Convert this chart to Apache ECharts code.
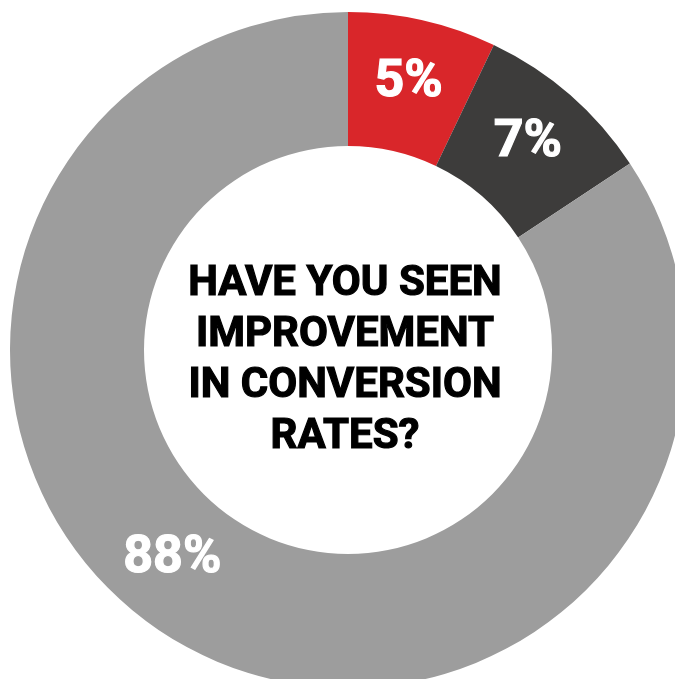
<!DOCTYPE html>
<html>
<head>
<meta charset="utf-8">
<script src="https://cdn.jsdelivr.net/npm/echarts@6/dist/echarts.min.js"></script>
<style>
html,body{margin:0;padding:0;background:#fff;}
#chart{width:675px;height:679px;}
</style>
</head>
<body>
<div id="chart"></div>
<script>
const categories = ['Yes, significantly', 'Yes, somewhat', 'No'];
const shares = [7.1, 8.6, 84.3];
const labelTexts = ['5%', '7%', '88%'];
const colors = ['#D9262A', '#3D3C3B', '#9D9D9D'];
const centerLines = ['HAVE YOU SEEN', 'IMPROVEMENT', 'IN CONVERSION', 'RATES?'];

const chart = echarts.init(document.getElementById('chart'), null, {renderer: 'canvas'});
const data = categories.map((c, i) => ({
  name: c,
  value: shares[i],
  itemStyle: {color: colors[i]},
  label: {formatter: labelTexts[i]}
}));

chart.setOption({
  animation: false,
  series: [{
    type: 'pie',
    center: [348, 350],
    radius: [204, 338],
    startAngle: 90,
    clockwise: true,
    avoidLabelOverlap: false,
    label: {
      show: true,
      position: 'inside',
      color: '#ffffff',
      fontFamily: 'Roboto',
      fontWeight: 'bold',
      fontSize: 52,
      textBorderColor: '#ffffff',
      textBorderWidth: 1.2
    },
    labelLine: {show: false},
    labelLayout: function (p) {
      if (p.dataIndex === 2) return {dx: -46, dy: -32};
      return {};
    },
    emphasis: {disabled: true},
    data: data
  }],
  graphic: [{
    type: 'text',
    x: 345,
    y: 361,
    scaleX: 1.0,
    style: {
      text: centerLines.join('\n'),
      fill: '#000000',
      stroke: '#000000',
      lineWidth: 1.2,
      font: 'bold 42px Roboto',
      lineHeight: 51,
      align: 'center',
      verticalAlign: 'middle'
    }
  }]
});
</script>
</body>
</html>
